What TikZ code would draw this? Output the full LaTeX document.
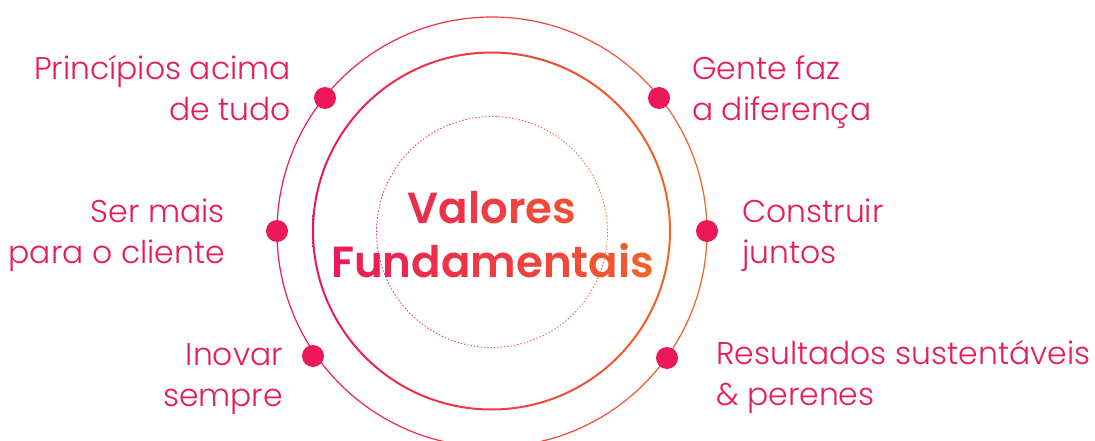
\documentclass[tikz,border=0pt]{standalone}
\usepackage{fontspec}
\setmainfont{Poppins}
\newfontfamily\lightfont{Poppins Light}
\newfontfamily\semifont{Poppins SemiBold}
\definecolor{pinkC}{RGB}{234,24,90}
\definecolor{orangeC}{RGB}{242,100,40}
\definecolor{dotC}{RGB}{236,24,88}
\definecolor{textC}{RGB}{232,28,88}
\newcommand{\gc}[2]{\textcolor{orangeC!#1!pinkC}{#2}}
\begin{document}
\begin{tikzpicture}[x=1pt,y=-1pt,
  lbl/.style={font=\lightfont\fontsize{31.4}{36}\selectfont, text=textC, inner sep=0pt},
  dotn/.style={circle, fill=dotC, minimum size=22pt, inner sep=0pt},
  ttl/.style={font=\semifont\fontsize{43.5}{52}\selectfont, inner sep=0pt}]
\useasboundingbox[fill=white] (0,0) rectangle (1095,441);
\coordinate (c) at (492,232);
\coordinate (c2) at (491.5,231);
% outer ring
\shade[left color=pinkC, right color=orangeC, even odd rule]
  (c) circle (215.6) (c) circle (214.4);
% middle ring
\shade[left color=pinkC, right color=orangeC, even odd rule]
  (c2) circle (179.5) (c2) circle (177.5);
% inner dotted ring
\foreach \a in {0,5,...,355}{
  \pgfmathtruncatemacro\p{50*(1+cos(\a+2.5))}
  \draw[color=orangeC!\p!pinkC, line width=0.8pt, dash pattern=on 1.4pt off 1.96pt]
    (c) ++(\a:115.5) arc[start angle=\a, delta angle=5, radius=115.5];
}
% dots
\node[dotn] (d1) at (325,98) {};
\node[dotn] (d2) at (277,231) {};
\node[dotn] (d3) at (313,356) {};
\node[dotn] (d4) at (659,98) {};
\node[dotn] (d5) at (707,231) {};
\node[dotn] (d6) at (667,358) {};
% title
\node[ttl, anchor=base] (t1) at (492,223)
  {\gc{28}{V}\gc{35}{a}\gc{43}{l}\gc{50}{o}\gc{57}{r}\gc{65}{e}\gc{72}{s}};
\node[ttl, anchor=base] (t2) at (492.5,277)
  {\gc{4}{F}\gc{12}{u}\gc{21}{n}\gc{29}{d}\gc{37}{a}\gc{46}{m}\gc{54}{e}\gc{62}{n}\gc{71}{t}\gc{79}{a}\gc{87}{i}\gc{96}{s}};
% labels
\node[lbl, anchor=base east] (l1a) at (291,80) {Princípios acima};
\node[lbl, anchor=base east] (l1b) at (291,121) {de tudo};
\node[lbl, anchor=base east] (l2a) at (225,222) {Ser mais};
\node[lbl, anchor=base east] (l2b) at (225,263) {para o cliente};
\node[lbl, anchor=base east] (l3a) at (283,365) {Inovar};
\node[lbl, anchor=base east] (l3b) at (283,406) {sempre};
\node[lbl, anchor=base west] (l4a) at (692,80) {Gente faz};
\node[lbl, anchor=base west] (l4b) at (692,121) {a diferença};
\node[lbl, anchor=base west] (l5a) at (742,222) {Construir};
\node[lbl, anchor=base west] (l5b) at (742,263) {juntos};
\node[lbl, anchor=base west] (l6a) at (716,364) {Resultados sustentáveis};
\node[lbl, anchor=base west] (l6b) at (716,405) {\& perenes};
\end{tikzpicture}
\end{document}
